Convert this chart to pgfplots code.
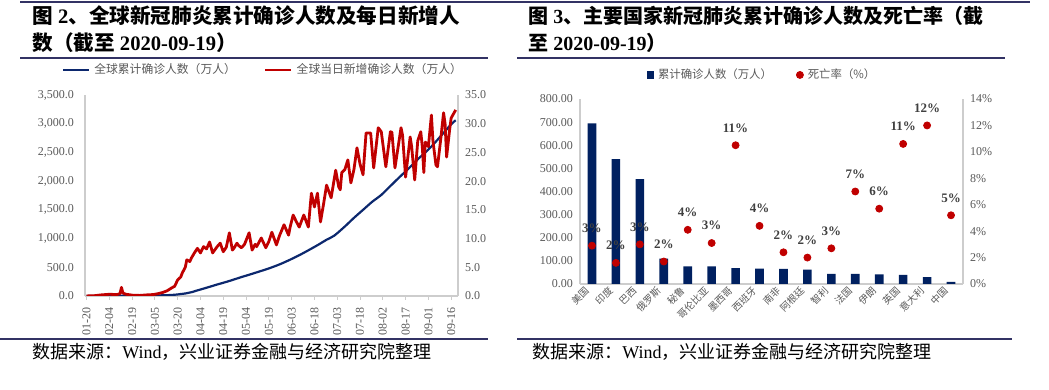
\documentclass[border=0pt]{standalone}
\usepackage{fontspec}
\setmainfont{Liberation Serif}
\newfontfamily\cjk{Noto Sans CJK SC}
\usepackage{pgfplots}
\pgfplotsset{compat=1.18}
\definecolor{navy}{RGB}{0,32,96}
\definecolor{lnblue}{RGB}{12,40,110}
\definecolor{dred}{RGB}{192,0,0}
\definecolor{rulec}{RGB}{50,50,100}
\definecolor{axg}{RGB}{205,205,205}
\definecolor{tickg}{RGB}{89,89,89}
\definecolor{labg}{RGB}{64,64,64}
\pgfplotsset{
  every tick label/.append style={font=\fontsize{6}{7}\selectfont, text=tickg},
  /pgf/number format/assume math mode=true,
}
\begin{document}
\begin{tikzpicture}
\useasboundingbox (0,0) rectangle (524.5pt,195pt);
% rules
\draw[rulec, line width=1pt] (10pt,194.2pt) -- (515pt,194.2pt);
\draw[rulec, line width=1pt] (10pt,166pt) -- (244pt,166pt);
\draw[rulec, line width=1pt] (258.5pt,166pt) -- (502.5pt,166pt);
\draw[rulec, line width=1pt] (0pt,25.5pt) -- (244pt,25.5pt);
\draw[rulec, line width=1pt] (258.5pt,25.5pt) -- (506pt,25.5pt);
% titles
\node[anchor=west, inner sep=0] at (16pt,187pt) {\fontsize{10.3}{12}\selectfont\bfseries{\cjk 图} 2{\cjk 、全球新冠肺炎累计确诊人数及每日新增人}};
\node[anchor=west, inner sep=0] at (16pt,173.75pt) {\fontsize{10.3}{12}\selectfont\bfseries{\cjk 数（截至} 2020-09-19{\cjk ）}};
\node[anchor=west, inner sep=0] at (264pt,187pt) {\fontsize{10}{12}\selectfont\bfseries{\cjk 图} 3{\cjk 、主要国家新冠肺炎累计确诊人数及死亡率（截}};
\node[anchor=west, inner sep=0] at (264pt,173.75pt) {\fontsize{10}{12}\selectfont\bfseries{\cjk 至} 2020-09-19{\cjk ）}};
% sources
\node[anchor=west, inner sep=0] at (16pt,19.25pt) {\fontsize{9}{10}\selectfont{\cjk 数据来源：}Wind{\cjk ，兴业证券金融与经济研究院整理}};
\node[anchor=west, inner sep=0] at (266pt,19.25pt) {\fontsize{9}{10}\selectfont{\cjk 数据来源：}Wind{\cjk ，兴业证券金融与经济研究院整理}};

% ================= LEFT CHART =================
\begin{axis}[
  at={(42.5pt,47pt)}, anchor=south west,
  scale only axis, width=186.5pt, height=100.5pt,
  xmin=-1, xmax=244.5, ymin=0, ymax=3500,
  axis y line*=left, axis x line*=bottom,
  axis line style={draw=axg, line width=0.6pt},
  tick style={draw=axg, line width=0.5pt},
  major tick length=2pt, tick align=outside,
  xtick={0,15,...,240},
  xticklabels={01-20,02-04,02-19,03-05,03-20,04-04,04-19,05-04,05-19,06-03,06-18,07-03,07-18,08-02,08-17,09-01,09-16},
  x tick label style={rotate=90, anchor=east},
  ytick={0,500,...,3500},
  yticklabel style={/pgf/number format/.cd, fixed, fixed zerofill, precision=1, 1000 sep={,}},
  ytick style={draw=none},
]
\addplot[lnblue, line width=1.1pt, smooth] coordinates {
(0,0.03) (5,0.2) (10,0.8) (15,2.0) (20,4.5) (25,6.3) (30,7.5) (35,8.0) (40,8.5) (45,9.7)
(50,11.8) (55,16.7) (58,22) (60,27) (62,34) (65,44) (68,60) (70,72) (72,90) (75,113)
(80,152) (86,200) (90,230) (95,270) (102,330) (107,370) (113,420) (120,480) (127,550)
(133,620) (140,710) (147,810) (153,900) (158,980) (163,1050) (170,1210) (176,1360)
(182,1500) (188,1640) (194,1760) (200,1915) (206,2070) (212,2220) (218,2380) (225,2550)
(230,2690) (235,2840) (240,2990) (243,3060)};
\end{axis}
\begin{axis}[
  at={(42.5pt,47pt)}, anchor=south west,
  scale only axis, width=186.5pt, height=100.5pt,
  xmin=-1, xmax=244.5, ymin=0, ymax=35,
  axis y line*=right, axis x line=none,
  axis line style={draw=axg, line width=0.6pt},
  ytick style={draw=none},
  ytick={0,5,...,35},
  yticklabel style={/pgf/number format/.cd, fixed, fixed zerofill, precision=1},
  legend columns=2,
  legend style={draw=none, fill=none, at={(0.48,1.124)}, anchor=center,
    font=\cjk\fontsize{5.9}{6.5}\selectfont, text=tickg,
    /tikz/every even column/.append style={column sep=12pt}},
  legend image code/.code={\draw[#1] (0pt,0pt) -- (13pt,0pt);},
]
\addlegendimage{lnblue, line width=1.1pt}
\addlegendentry{全球累计确诊人数（万人）}
\addplot[dred, line width=1.4pt, line join=round] coordinates {
(0,0.01) (5,0.05) (10,0.2) (15,0.3) (20,0.25) (22,0.4) (23,1.5) (24,0.5) (26,0.3) (30,0.15)
(35,0.1) (40,0.2) (44,0.25) (47,0.4) (50,0.6) (53,0.9) (56,1.4) (58,1.7) (60,2.8) (62,3.3)
(63,4.0) (65,5.0) (66,6.3) (68,6.0) (69,6.6) (71,7.5) (73,8.3) (75,7.5) (77,8.6) (79,8.2)
(81,9.4) (83,7.5) (86,8.6) (88,9.2) (90,7.7) (92,8.5) (94,11.0) (96,8.0) (97,8.3) (99,9.2)
(100,8.8) (102,8.4) (104,9.0) (107,11.0) (109,8.0) (111,9.0) (112,8.6) (115,10.1) (118,8.4)
(120,9.5) (122,11.1) (125,8.9) (127,10.5) (130,12.4) (133,10.6) (134,12) (136,14.1) (138,13.0)
(140,12.0) (143,14.1) (146,12.0) (148,17.9) (150,15.5) (152,17.9) (154,12.9) (156,16)
(158,19.3) (161,17.1) (164,21.9) (166,19.0) (167,18.5) (168,21.5) (170,22) (172,23.7)
(174,19.7) (176,22) (178,25.8) (180,23) (182,21.1) (184,28.4) (187,28.4) (189,22.3)
(192,29.3) (194,28.6) (197,22.5) (200,28.6) (201,28.5) (203,22.3) (207,29.3) (208,28)
(210,20.7) (213,27.7) (214,26) (216,20.2) (218,27) (220,28.6) (221,26) (222,21.5) (223,26.8)
(225,26) (227,31.5) (228,27) (230,22.8) (231,22.5) (233,27) (235,31.9) (236,30) (237,24.2)
(239,29) (240,31.0) (243,32.4)};
\addlegendentry{全球当日新增确诊人数（万人）}
\end{axis}

% ================= RIGHT CHART =================
\begin{axis}[
  at={(290pt,53pt)}, anchor=south west,
  scale only axis, width=191.5pt, height=92.5pt,
  xmin=-0.5, xmax=15.5, ymin=0, ymax=800,
  axis y line*=left, axis x line*=bottom,
  axis line style={draw=axg, line width=0.6pt},
  tick style={draw=none},
  xtick={0,...,15},
  xticklabels={美国,印度,巴西,俄罗斯,秘鲁,哥伦比亚,墨西哥,西班牙,南非,阿根廷,智利,法国,伊朗,英国,意大利,中国},
  x tick label style={rotate=45, anchor=east, font=\cjk\fontsize{4.9}{5.5}\selectfont},
  ytick={0,100,...,800},
  yticklabel style={/pgf/number format/.cd, fixed, fixed zerofill, precision=2},
]
\addplot[ybar, bar width=0.36, fill=navy, draw=none] coordinates {
(0,695) (1,540) (2,453) (3,110) (4,76) (5,76) (6,69) (7,67) (8,65) (9,62) (10,44) (11,44) (12,42) (13,39) (14,30) (15,9)};
\end{axis}
\begin{axis}[
  at={(290pt,53pt)}, anchor=south west,
  scale only axis, width=191.5pt, height=92.5pt,
  xmin=-0.5, xmax=15.5, ymin=0, ymax=14,
  axis y line*=right, axis x line=none,
  axis line style={draw=axg, line width=0.6pt},
  tick style={draw=none},
  ytick={0,2,...,14},
  yticklabel={\pgfmathprintnumber{\tick}\%},
  legend columns=2,
  legend style={draw=none, fill=none, at={(0.478,1.13)}, anchor=center,
    font=\cjk\fontsize{5.7}{6.5}\selectfont, text=tickg,
    /tikz/every even column/.append style={column sep=10pt}},
]
\addlegendimage{legend image code/.code={\fill[navy] (0pt,-1.6pt) rectangle (3.2pt,1.6pt);}}
\addlegendentry{累计确诊人数（万人）}
\addplot[only marks, mark=*, mark size=1.75pt, color=dred,
  legend image code/.code={\fill[dred] (1.6pt,0pt) circle (1.75pt);},
  nodes near coords, point meta=explicit symbolic,
  every node near coord/.append style={font=\bfseries\fontsize{6.5}{7}\selectfont, text=labg, yshift=3pt}]
coordinates {
(0,2.9)[3\%] (1,1.6)[2\%] (2,3.0)[3\%] (3,1.7)[2\%] (4,4.1)[4\%] (5,3.1)[3\%] (6,10.5)[11\%] (7,4.4)[4\%]
(8,2.4)[2\%] (9,2.0)[2\%] (10,2.7)[3\%] (11,7.0)[7\%] (12,5.7)[6\%] (13,10.6)[11\%] (14,12.0)[12\%] (15,5.2)[5\%]};
\addlegendentry{死亡率（\%）}
\end{axis}
\end{tikzpicture}
\end{document}
